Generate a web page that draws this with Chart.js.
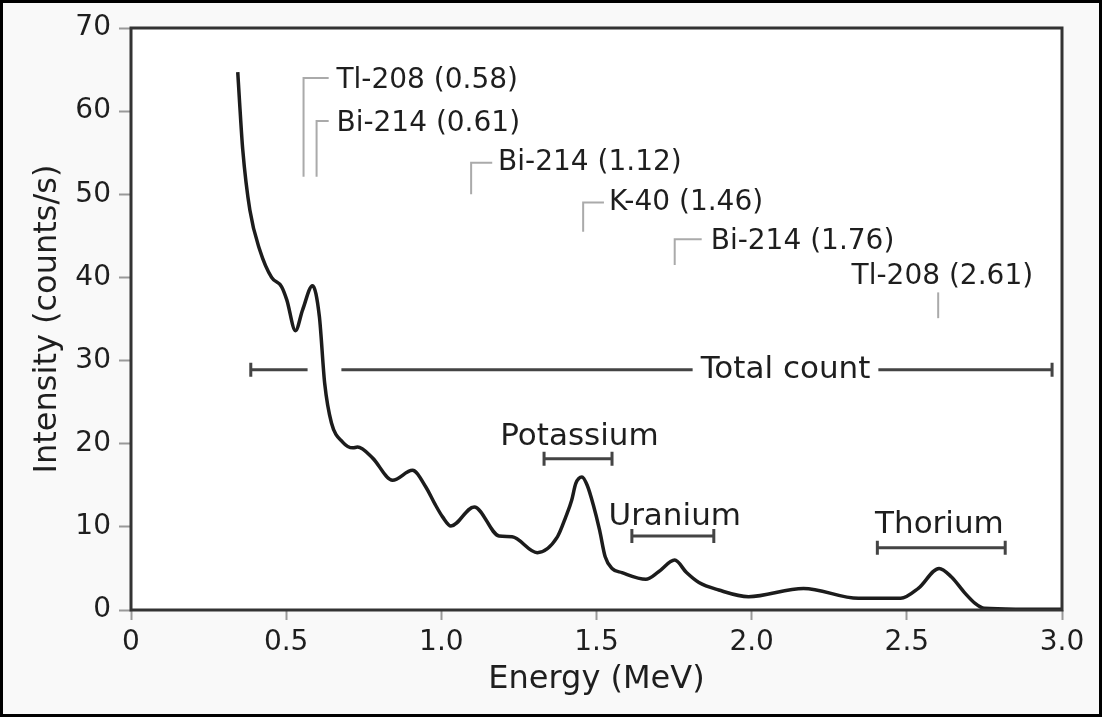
<!DOCTYPE html>
<html><head><meta charset="utf-8">
<script src="https://cdn.jsdelivr.net/npm/chart.js@4.4.1/dist/chart.umd.min.js"></script>
<style>html,body{margin:0;padding:0;background:#fff;}canvas{display:block;}</style>
</head><body>
<canvas id="c" width="1102" height="717"></canvas>
<script>
// ---- data ----
const energy = [0.344,0.350,0.360,0.383,0.415,0.453,0.485,0.502,0.530,0.553,0.585,0.607,0.624,0.646,0.682,0.715,0.730,0.778,0.843,0.907,0.950,0.980,1.004,1.031,1.106,1.186,1.228,1.309,1.374,1.401,1.420,1.433,1.453,1.470,1.490,1.510,1.528,1.550,1.582,1.659,1.700,1.752,1.790,1.830,1.894,1.990,2.167,2.344,2.480,2.537,2.604,2.643,2.688,2.720,2.750,2.850,3.000];
const intensity = [64.7,61.0,55.4,48.1,43.3,40.0,38.9,37.3,33.6,36.1,39.0,35.3,27.3,22.5,20.2,19.5,19.6,18.3,15.6,16.8,14.8,12.7,11.2,10.1,12.4,8.9,8.8,6.9,8.8,11.2,13.2,15.2,16.0,15.0,12.6,9.6,6.4,5.0,4.5,3.7,4.6,6.0,4.5,3.3,2.4,1.6,2.6,1.4,1.4,2.6,5.0,4.0,2.0,0.8,0.2,0.1,0.1];

const xTickLabels = ['0','0.5','1.0','1.5','2.0','2.5','3.0'];
const yTickLabels = ['0','10','20','30','40','50','60','70'];

const isotopeLabels   = ['Tl-208 (0.58)','Bi-214 (0.61)','Bi-214 (1.12)','K-40 (1.46)','Bi-214 (1.76)','Tl-208 (2.61)'];
const isotopeLineX    = [0.556,0.598,1.096,1.457,1.752,2.601];
const isotopeLineTop  = [64.0,58.8,53.8,49.0,44.6,38.2];
const isotopeLineBot  = [52.1,52.1,50.0,45.5,41.5,35.1];
const isotopeElbowEnd = [0.637,0.637,1.164,1.524,1.839,null];
const isotopeTextX    = [0.662,0.662,1.183,1.540,1.868,2.322];
const isotopeTextY    = [63.7,58.5,53.8,49.0,44.3,40.1];

const regionNames  = ['Total count','Potassium','Uranium','Thorium'];
const regionStart  = [0.386,1.331,1.614,2.405];
const regionEnd    = [2.968,1.550,1.878,2.817];
const regionLevel  = [28.9,18.2,8.9,7.5];
const regionLabelX = [2.109,1.445,1.752,2.605];
const regionLabelY = [28.9,20.8,11.2,10.2];
const totalCurveGap = [0.569,0.678];

const FONT = "'DejaVu Sans', sans-serif";
const TXT = '#1e1e1e';

const overlay = {
  id: 'overlay',
  beforeDraw(chart) {
    const {ctx, chartArea: a} = chart;
    ctx.save();
    ctx.fillStyle = '#f9f9f9';
    ctx.fillRect(0, 0, chart.width, chart.height);
    ctx.fillStyle = '#ffffff';
    ctx.fillRect(a.left, a.top, a.right - a.left, a.bottom - a.top);
    ctx.restore();
  },
  afterDatasetsDraw(chart) {
    const {ctx, chartArea: a} = chart;
    const xs = chart.scales.x, ys = chart.scales.y;
    const X = v => xs.getPixelForValue(v), Y = v => ys.getPixelForValue(v);
    ctx.save();
    // isotope markers
    ctx.strokeStyle = '#aaaaaa';
    ctx.lineWidth = 2;
    isotopeLabels.forEach((t, i) => {
      ctx.beginPath();
      ctx.moveTo(X(isotopeLineX[i]), Y(isotopeLineBot[i]));
      ctx.lineTo(X(isotopeLineX[i]), Y(isotopeLineTop[i]));
      if (isotopeElbowEnd[i] !== null) ctx.lineTo(X(isotopeElbowEnd[i]), Y(isotopeLineTop[i]));
      ctx.stroke();
    });
    ctx.fillStyle = TXT;
    ctx.font = "28px " + FONT;
    ctx.textAlign = 'left';
    ctx.textBaseline = 'middle';
    isotopeLabels.forEach((t, i) => ctx.fillText(t, X(isotopeTextX[i]), Y(isotopeTextY[i])));

    // region brackets
    ctx.strokeStyle = '#444';
    ctx.lineWidth = 3;
    ctx.font = "31px " + FONT;
    ctx.textAlign = 'center';
    regionNames.forEach((name, i) => {
      const x0 = X(regionStart[i]), x1 = X(regionEnd[i]), y = Y(regionLevel[i]);
      const segs = [];
      if (i === 0) {
        const tw = ctx.measureText(name).width;
        const tx = X(regionLabelX[i]);
        segs.push([x0, X(totalCurveGap[0])]);
        segs.push([X(totalCurveGap[1]), tx - tw / 2 - 8]);
        segs.push([tx + tw / 2 + 8, x1]);
      } else {
        segs.push([x0, x1]);
      }
      ctx.beginPath();
      segs.forEach(s => { ctx.moveTo(s[0], y); ctx.lineTo(s[1], y); });
      ctx.moveTo(x0, y - 7); ctx.lineTo(x0, y + 7);
      ctx.moveTo(x1, y - 7); ctx.lineTo(x1, y + 7);
      ctx.stroke();
      ctx.fillText(name, X(regionLabelX[i]), Y(regionLabelY[i]));
    });

    // plot frame
    ctx.strokeStyle = '#333';
    ctx.lineWidth = 3;
    ctx.strokeRect(a.left, a.top, a.right - a.left, a.bottom - a.top);
    // figure border
    ctx.strokeStyle = '#000';
    ctx.lineWidth = 3;
    ctx.strokeRect(1.5, 1.5, chart.width - 3, chart.height - 3);
    ctx.restore();
  }
};

new Chart(document.getElementById('c'), {
  type: 'line',
  data: {
    datasets: [{
      data: energy.map((e, i) => ({x: e, y: intensity[i]})),
      borderColor: '#1c1c1c',
      borderWidth: 3.5,
      pointRadius: 0,
      cubicInterpolationMode: 'monotone',
      fill: false
    }]
  },
  options: {
    responsive: false,
    animation: false,
    events: [],
    layout: {padding: {left: 0, right: 40, top: 28, bottom: 0}},
    plugins: {legend: {display: false}, tooltip: {enabled: false}},
    scales: {
      x: {
        type: 'linear', min: 0, max: 3,
        ticks: {stepSize: 0.5, autoSkip: false, maxRotation: 0, padding: 6, color: TXT,
                font: {family: FONT, size: 28},
                callback: v => xTickLabels[Math.round(v / 0.5)]},
        grid: {drawOnChartArea: false, drawTicks: true, tickLength: 10, tickColor: '#999', tickWidth: 2},
        border: {display: false},
        title: {display: true, text: 'Energy (MeV)', color: TXT, font: {family: FONT, size: 32},
                padding: {top: 0, bottom: 18}},
        afterFit(s) { s.height = 107; s.paddingLeft = 0; s.paddingRight = 0; }
      },
      y: {
        type: 'linear', min: 0, max: 70,
        ticks: {stepSize: 10, padding: 8, color: TXT, font: {family: FONT, size: 28},
                callback: v => yTickLabels[Math.round(v / 10)]},
        grid: {drawOnChartArea: false, drawTicks: true, tickLength: 12, tickColor: '#999', tickWidth: 2},
        border: {display: false},
        title: {display: true, text: 'Intensity (counts/s)', color: TXT, font: {family: FONT, size: 32},
                padding: {top: 28, bottom: 0}},
        afterFit(s) { s.width = 131; s.paddingTop = 0; s.paddingBottom = 0; }
      }
    }
  },
  plugins: [overlay]
});
</script>
</body></html>
